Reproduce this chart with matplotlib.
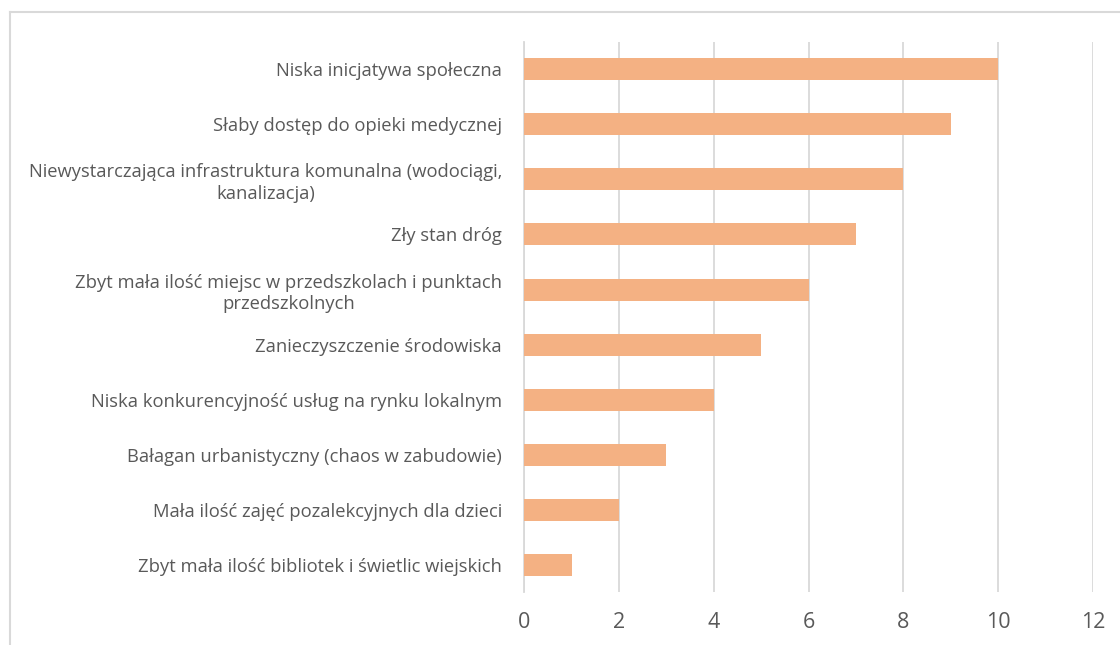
import matplotlib.pyplot as plt
from matplotlib.lines import Line2D

categories = [
    'Niska inicjatywa społeczna',
    'Słaby dostęp do opieki medycznej',
    'Niewystarczająca infrastruktura komunalna (wodociągi,\nkanalizacja)',
    'Zły stan dróg',
    'Zbyt mała ilość miejsc w przedszkolach i punktach\nprzedszkolnych',
    'Zanieczyszczenie środowiska',
    'Niska konkurencyjność usług na rynku lokalnym',
    'Bałagan urbanistyczny (chaos w zabudowie)',
    'Mała ilość zajęć pozalekcyjnych dla dzieci',
    'Zbyt mała ilość bibliotek i świetlic wiejskich',
]
values = [10, 9, 8, 7, 6, 5, 4, 3, 2, 1]
xticks = [0, 2, 4, 6, 8, 10, 12]

plt.rcParams['font.family'] = ['Open Sans', 'DejaVu Sans']

fig = plt.figure(figsize=(11.2, 6.45), dpi=100)
ax = fig.add_axes([0.468, 0.082, 0.508, 0.853])

pos = list(range(len(categories)))
ax.barh(pos, values, height=0.4, color='#F4B183', zorder=3)
ax.set_ylim(len(categories) - 0.5, -0.5)
ax.set_xlim(0, 12)
ax.set_xticks(xticks)
ax.set_yticks(pos)
ax.set_yticklabels(categories, fontsize=13.2, color='#595959', ha='right',
                   multialignment='center', linespacing=1.25)
ax.tick_params(axis='x', labelsize=15.5, colors='#595959', length=0, pad=14)
ax.tick_params(axis='y', length=0, pad=16)

# vertical gridlines only
ax.grid(axis='x', color='#D9D9D9', linewidth=1.3, zorder=0)
for s in ['top', 'right', 'bottom']:
    ax.spines[s].set_visible(False)
ax.spines['left'].set_color('#D9D9D9')
ax.spines['left'].set_linewidth(1.3)

# light frame around the chart area (top and left edges visible)
fig.add_artist(Line2D([10 / 1120, 1], [1 - 12 / 645, 1 - 12 / 645],
                      transform=fig.transFigure, color='#D9D9D9', lw=1.5))
fig.add_artist(Line2D([10 / 1120, 10 / 1120], [0, 1 - 12 / 645],
                      transform=fig.transFigure, color='#D9D9D9', lw=1.5))

fig.savefig('out.png', dpi=100)
